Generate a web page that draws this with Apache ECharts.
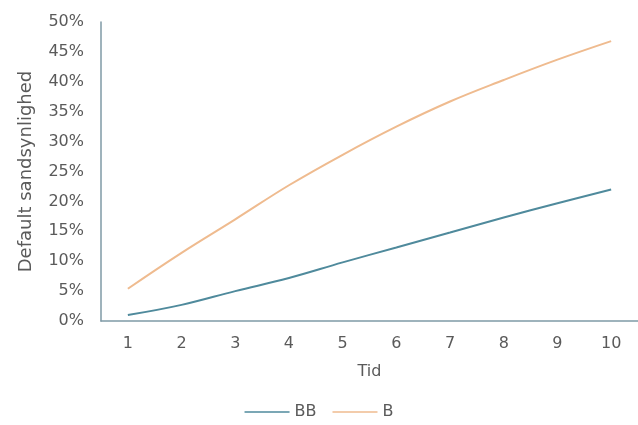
<!DOCTYPE html>
<html>
<head>
<meta charset="utf-8">
<script src="https://cdn.jsdelivr.net/npm/echarts@6/dist/echarts.min.js"></script>
<style>
  html, body { margin: 0; padding: 0; background: #ffffff; }
  #chart { width: 638px; height: 425px; }
</style>
</head>
<body>
<div id="chart"></div>
<script>
// Years on the horizontal axis
const years = ['1', '2', '3', '4', '5', '6', '7', '8', '9', '10'];
// Cumulative default probability (%) per rating
const seriesBB = [1.0, 2.7, 5.0, 7.2, 9.8, 12.3, 14.8, 17.3, 19.7, 22.0];
const seriesB = [5.4, 11.4, 17.0, 22.7, 27.8, 32.5, 36.7, 40.3, 43.7, 46.8];
const seriesNames = ['BB', 'B'];
const yAxisTitle = 'Default sandsynlighed';
const xAxisTitle = 'Tid';

const fontFamily = '"DejaVu Sans", sans-serif';
const textColor = '#5a5a5a';
const axisColor = '#7f9aa6';

const chart = echarts.init(document.getElementById('chart'), null, { renderer: 'canvas' });
chart.setOption({
  animation: false,
  backgroundColor: '#ffffff',
  grid: { left: 101, right: 0, top: 22, bottom: 104, containLabel: false },
  legend: {
    data: seriesNames,
    bottom: 0,
    left: 'center',
    icon: 'rect',
    itemWidth: 45,
    itemHeight: 1.5,
    itemGap: 16,
    textStyle: { fontFamily, fontSize: 16, color: textColor }
  },
  xAxis: {
    type: 'category',
    data: years,
    boundaryGap: true,
    name: xAxisTitle,
    nameLocation: 'middle',
    nameGap: 43,
    nameTextStyle: { fontFamily, fontSize: 16, color: textColor },
    axisLine: { lineStyle: { color: axisColor, width: 1.5 } },
    axisTick: { show: false },
    axisLabel: { fontFamily, fontSize: 16, color: textColor, margin: 15 },
    splitLine: { show: false }
  },
  yAxis: {
    type: 'value',
    min: 0,
    max: 50,
    interval: 5,
    name: yAxisTitle,
    nameLocation: 'middle',
    nameGap: 66,
    nameTextStyle: { fontFamily, fontSize: 18, color: textColor },
    axisLine: { show: true, lineStyle: { color: axisColor, width: 1.5 } },
    axisTick: { show: false },
    axisLabel: { fontFamily, fontSize: 16, color: textColor, margin: 17, formatter: '{value}%' },
    splitLine: { show: false }
  },
  series: [
    {
      name: seriesNames[0],
      type: 'line',
      data: seriesBB,
      smooth: 0.4,
      symbol: 'none',
      lineStyle: { color: '#4f8a9c', width: 2 },
      itemStyle: { color: '#4f8a9c' }
    },
    {
      name: seriesNames[1],
      type: 'line',
      data: seriesB,
      smooth: 0.4,
      symbol: 'none',
      lineStyle: { color: '#efbb8f', width: 2 },
      itemStyle: { color: '#efbb8f' }
    }
  ]
});
</script>
</body>
</html>
